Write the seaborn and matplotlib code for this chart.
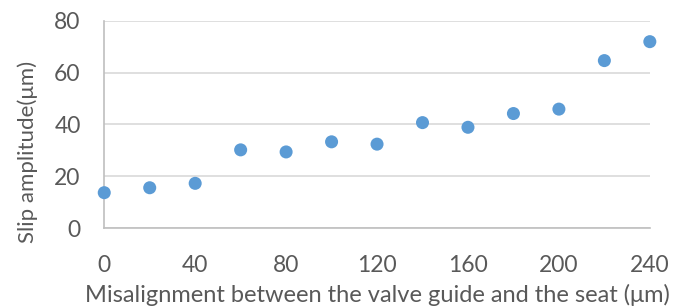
import matplotlib
matplotlib.use('Agg')
import matplotlib.pyplot as plt
import pandas as pd
import seaborn as sns

# Data
misalignment = [0, 20, 40, 60, 80, 100, 120, 140, 160, 180, 200, 220, 240]
slip_amplitude = [13.7, 15.6, 17.3, 30.2, 29.4, 33.3, 32.4, 40.7, 38.9, 44.2, 45.9, 64.6, 71.9]
x_ticks = [0, 40, 80, 120, 160, 200, 240]
y_ticks = [0, 20, 40, 60, 80]

df = pd.DataFrame({'x': misalignment, 'y': slip_amplitude})

sns.set_style('white')
plt.rcParams['font.family'] = ['Lato', 'DejaVu Sans']

text_color = '#595959'
axis_color = '#BFBFBF'
grid_color = '#D9D9D9'

fig = plt.figure(figsize=(6.95, 3.08), dpi=100)
ax = fig.add_axes([0.150, 0.259, 0.785, 0.674])

sns.scatterplot(data=df, x='x', y='y', color='#5B9BD5', s=88,
                edgecolor='none', ax=ax, zorder=3, clip_on=False)

ax.set_xlim(0, 240)
ax.set_ylim(0, 80)
ax.set_xticks(x_ticks)
ax.set_yticks(y_ticks)

# horizontal gridlines only
ax.yaxis.grid(True, color=grid_color, linewidth=1.2)
ax.xaxis.grid(False)
ax.set_axisbelow(True)

for side in ['top', 'right']:
    ax.spines[side].set_visible(False)
for side in ['left', 'bottom']:
    ax.spines[side].set_color(axis_color)
    ax.spines[side].set_linewidth(1.2)

ax.tick_params(axis='x', direction='in', length=5.5, width=1.0,
               color=axis_color, labelsize=16.5, labelcolor=text_color, pad=19)
ax.tick_params(axis='y', length=0, labelsize=16.5, labelcolor=text_color, pad=17)

ax.set_xlabel('Misalignment between the valve guide and the seat (μm)',
              fontsize=17, color=text_color, labelpad=6)
ax.set_ylabel('Slip amplitude(μm)', fontsize=16, color=text_color)
# the y title sits below the middle of the axis in the reference
ax.yaxis.set_label_coords(-0.121, 0.368)

fig.savefig('out.png', dpi=100)
